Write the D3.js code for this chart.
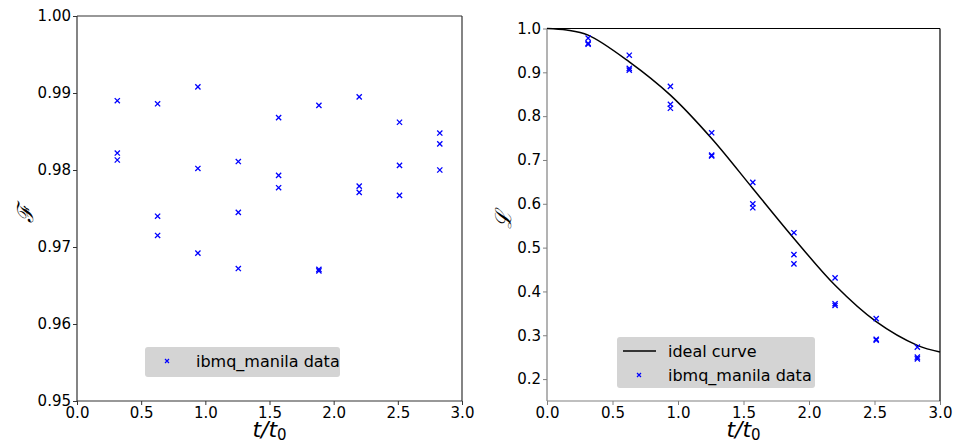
<!DOCTYPE html>
<html><head><meta charset="utf-8">
<script src="https://cdn.jsdelivr.net/npm/d3@7"></script>
<style>body{margin:0;background:#fff}svg{display:block;font-family:"DejaVu Sans",sans-serif}</style>
</head><body><svg id="c" width="959" height="446"></svg>
<script>
const times = [0.314, 0.628, 0.942, 1.257, 1.571, 1.885, 2.199, 2.513, 2.827];
// fidelity F, three runs per time
const fidelityA = [0.9890, 0.9886, 0.9908, 0.9811, 0.9868, 0.9884, 0.9895, 0.9862, 0.9848];
const fidelityB = [0.9822, 0.9740, 0.9802, 0.9745, 0.9793, 0.9671, 0.9779, 0.9806, 0.9834];
const fidelityC = [0.9813, 0.9715, 0.9692, 0.9672, 0.9777, 0.9669, 0.9771, 0.9767, 0.9800];
// Loschmidt echo L, three runs per time
const echoA = [0.978, 0.939, 0.868, 0.762, 0.649, 0.534, 0.431, 0.338, 0.273];
const echoB = [0.966, 0.909, 0.827, 0.711, 0.600, 0.484, 0.372, 0.291, 0.250];
const echoC = [0.964, 0.905, 0.818, 0.709, 0.591, 0.463, 0.368, 0.289, 0.246];
// ideal curve
const idealT = [0, 0.15, 0.314, 0.628, 0.942, 1.257, 1.571, 1.885, 2.199, 2.513, 2.827, 3.0];
const idealL = [1.0, 0.9965, 0.985, 0.924, 0.848, 0.749, 0.635, 0.521, 0.414, 0.331, 0.277, 0.262];
const xTicks = [0, 0.5, 1.0, 1.5, 2.0, 2.5, 3.0];
const fTicks = [0.95, 0.96, 0.97, 0.98, 0.99, 1.00];
const lTicks = [0.2, 0.3, 0.4, 0.5, 0.6, 0.7, 0.8, 0.9, 1.0];
const dataLabel = "ibmq_manila data";
const idealLabel = "ideal curve";

const svg = d3.select("#c");
const blue = "#0000ff";

function xMark(g, x, y, s = 2.6, w = 1.3) {
  g.append("path").attr("d", `M${x-s},${y-s}L${x+s},${y+s}M${x-s},${y+s}L${x+s},${y-s}`)
    .attr("stroke", blue).attr("stroke-width", w).attr("fill", "none");
}

function panel(opts) {
  const {x0, x1, y0, y1, yDomain, yTicks, yFmt, spineLB, spineTR, series, ideal, ylab, legend} = opts;
  const x = d3.scaleLinear().domain([0, 3]).range([x0, x1]);
  const y = d3.scaleLinear().domain(yDomain).range([y1, y0]);
  const g = svg.append("g");
  if (ideal) {
    g.append("path").datum(ideal.t.map((t, i) => [t, ideal.l[i]]))
      .attr("d", d3.line().x(d => x(d[0])).y(d => y(d[1])).curve(d3.curveCatmullRom.alpha(0.5)))
      .attr("fill", "none").attr("stroke", "#000").attr("stroke-width", 1.5);
  }
  series.forEach(s => s.forEach((v, i) => xMark(g, x(times[i]), y(v))));
  const ax = g.append("g").attr("transform", `translate(0,${y1})`)
    .call(d3.axisBottom(x).tickValues(xTicks).tickFormat(d3.format(".1f")).tickSize(4).tickPadding(2));
  const ay = g.append("g").attr("transform", `translate(${x0},0)`)
    .call(d3.axisLeft(y).tickValues(yTicks).tickFormat(d3.format(yFmt)).tickSize(4).tickPadding(2));
  [ax, ay].forEach(a => {
    a.select(".domain").remove();
    a.selectAll("line").attr("stroke", spineLB).attr("stroke-width", 1);
    a.selectAll("text").attr("fill", "#000").attr("font-size", 15).attr("font-family", "DejaVu Sans");
  });
  g.append("line").attr("x1", x0).attr("x2", x0).attr("y1", y0).attr("y2", y1).attr("stroke", spineLB).attr("stroke-width", 1.2);
  g.append("line").attr("x1", x0).attr("x2", x1).attr("y1", y1).attr("y2", y1).attr("stroke", spineLB).attr("stroke-width", 1.2);
  g.append("line").attr("x1", x0).attr("x2", x1).attr("y1", y0).attr("y2", y0).attr("stroke", spineTR).attr("stroke-width", 1.2);
  g.append("line").attr("x1", x1).attr("x2", x1).attr("y1", y0).attr("y2", y1).attr("stroke", spineTR).attr("stroke-width", 1.2);
  const xl = g.append("text").attr("x", (x0 + x1) / 2).attr("y", 437).attr("text-anchor", "middle")
    .attr("font-size", 22).attr("fill", "#000");
  xl.append("tspan").attr("font-style", "italic").text("t/t");
  xl.append("tspan").attr("font-size", 15).attr("dy", 3).text("0");
  g.append("text").attr("transform", `translate(${ylab.x},${(y0 + y1) / 2 + 5}) rotate(-90)`)
    .attr("text-anchor", "middle").attr("font-size", 22).attr("font-family", "DejaVu Serif")
    .attr("font-style", "italic").attr("fill", "#000").text(ylab.text);
  const lg = g.append("g");
  lg.append("rect").attr("x", legend.x).attr("y", legend.y).attr("width", legend.w).attr("height", legend.h)
    .attr("rx", 3).attr("fill", "#d4d4d4");
  let ly = legend.y + 14;
  if (legend.ideal) {
    lg.append("line").attr("x1", legend.x + 6).attr("x2", legend.x + 39).attr("y1", ly).attr("y2", ly)
      .attr("stroke", "#000").attr("stroke-width", 1.5);
    lg.append("text").attr("x", legend.x + 51).attr("y", ly + 5.5).attr("font-size", 16).attr("fill", "#000").text(idealLabel);
    ly += 24;
  }
  xMark(lg, legend.x + legend.mx, ly, 2, 1.2);
  lg.append("text").attr("x", legend.x + legend.tx).attr("y", ly + 5.5).attr("font-size", 16).attr("fill", "#000").text(dataLabel);
}

panel({x0: 77, x1: 462, y0: 16, y1: 401, yDomain: [0.95, 1.0], yTicks: fTicks, yFmt: ".2f",
  spineLB: "#333", spineTR: "#333", series: [fidelityA, fidelityB, fidelityC], ideal: null,
  ylab: {x: 33, text: "ℱ"},
  legend: {x: 145, y: 347, w: 195, h: 30, ideal: false, mx: 22, tx: 51}});

panel({x0: 547, x1: 940, y0: 28.5, y1: 401, yDomain: [0.15, 1.0], yTicks: lTicks, yFmt: ".1f",
  spineLB: "#808080", spineTR: "#000", series: [echoA, echoB, echoC], ideal: {t: idealT, l: idealL},
  ylab: {x: 511, text: "ℒ"},
  legend: {x: 617, y: 337, w: 198, h: 51, ideal: true, mx: 22, tx: 51}});
</script></body></html>
